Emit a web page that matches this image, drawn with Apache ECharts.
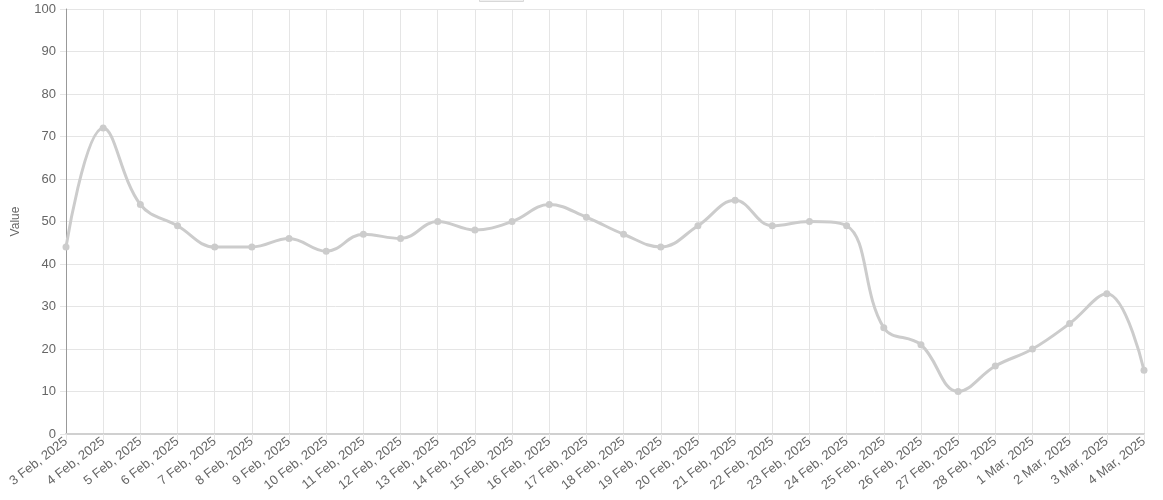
<!DOCTYPE html>
<html>
<head>
<meta charset="utf-8">
<script src="https://cdn.jsdelivr.net/npm/echarts@6/dist/echarts.min.js"></script>
<style>
html,body{margin:0;padding:0;background:#fff;}
#chart{width:1163px;height:500px;}
</style>
</head>
<body>
<div id="chart"></div>
<script>
const categories = ["3 Feb, 2025","4 Feb, 2025","5 Feb, 2025","6 Feb, 2025","7 Feb, 2025","8 Feb, 2025","9 Feb, 2025","10 Feb, 2025","11 Feb, 2025","12 Feb, 2025","13 Feb, 2025","14 Feb, 2025","15 Feb, 2025","16 Feb, 2025","17 Feb, 2025","18 Feb, 2025","19 Feb, 2025","20 Feb, 2025","21 Feb, 2025","22 Feb, 2025","23 Feb, 2025","24 Feb, 2025","25 Feb, 2025","26 Feb, 2025","27 Feb, 2025","28 Feb, 2025","1 Mar, 2025","2 Mar, 2025","3 Mar, 2025","4 Mar, 2025"];
const values = [44,72,54,49,44,44,46,43,47,46,50,48,50,54,51,47,44,49,55,49,50,49,25,21,10,16,20,26,33,15];
const yTicks = {min:0, max:100, interval:10};

const chart = echarts.init(document.getElementById('chart'));
chart.setOption({
  animation:false,
  textStyle:{fontFamily:'Liberation Sans, Arial, sans-serif'},
  legend:{
    show:true, top:-16, left:474, padding:5,
    itemWidth:44, itemHeight:12,
    icon:'rect',
    formatter:function(){return '';},
    itemGap:0,
    data:[{name:'Value', itemStyle:{color:'#f0f0f0', borderColor:'#d8d8d8', borderWidth:1}}]
  },
  grid:{left:66, right:19, top:9, bottom:66, containLabel:false},
  xAxis:{
    type:'category', data:categories, boundaryGap:false,
    axisLine:{show:true, lineStyle:{color:'#d0d0d0', width:2}},
    axisTick:{show:true, length:6, lineStyle:{color:'#e5e5e5'}},
    axisLabel:{rotate:38, color:'#666', fontSize:13, margin:6, interval:0},
    splitLine:{show:true, lineStyle:{color:'#e5e5e5', width:1}}
  },
  yAxis:{
    type:'value', min:yTicks.min, max:yTicks.max, interval:yTicks.interval,
    name:'Value', nameLocation:'middle', nameGap:44, nameRotate:90,
    nameTextStyle:{color:'#666', fontSize:12},
    axisLine:{show:true, lineStyle:{color:'#999', width:1}},
    axisTick:{show:true, length:6, lineStyle:{color:'#e5e5e5'}},
    axisLabel:{color:'#666', fontSize:13, margin:10},
    splitLine:{show:true, lineStyle:{color:'#e5e5e5', width:1}}
  },
  series:[{
    name:'Value', type:'line', data:values, smooth:0.4,
    symbol:'circle', symbolSize:7,
    lineStyle:{color:'#cccccc', width:3},
    itemStyle:{color:'#cccccc'}
  }]
});
</script>
</body>
</html>
